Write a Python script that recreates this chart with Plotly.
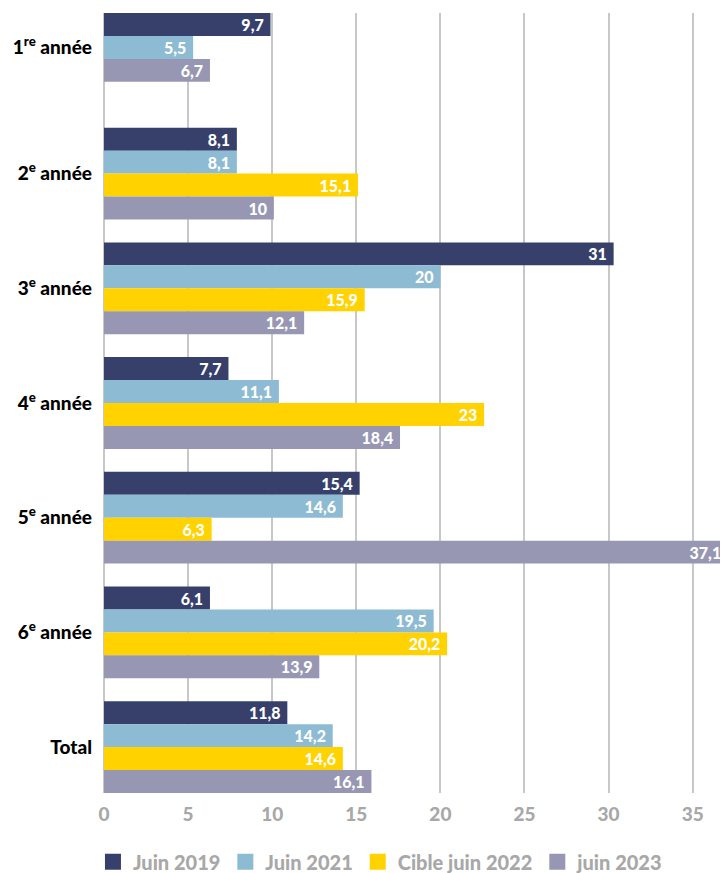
import plotly.graph_objects as go

# Categories (top to bottom)
categories = ["1<sup>re</sup> année", "2<sup>e</sup> année", "3<sup>e</sup> année",
              "4<sup>e</sup> année", "5<sup>e</sup> année", "6<sup>e</sup> année", "Total"]

series_names = ["Juin 2019", "Juin 2021", "Cible juin 2022", "juin 2023"]
series_colors = ["#36406b", "#8dbbd4", "#ffd200", "#9797b3"]

# Bar lengths as drawn in the picture
juin_2019 = [9.9, 7.9, 30.3, 7.4, 15.2, 6.3, 10.9]
juin_2021 = [5.3, 7.9, 20.0, 10.4, 14.2, 19.6, 13.6]
cible_2022 = [None, 15.1, 15.5, 22.6, 6.4, 20.4, 14.2]
juin_2023 = [6.3, 10.1, 11.9, 17.6, 37.1, 12.8, 15.9]

# Printed value labels
labels_2019 = ["9,7", "8,1", "31", "7,7", "15,4", "6,1", "11,8"]
labels_2021 = ["5,5", "8,1", "20", "11,1", "14,6", "19,5", "14,2"]
labels_2022 = [None, "15,1", "15,9", "23", "6,3", "20,2", "14,6"]
labels_2023 = ["6,7", "10", "12,1", "18,4", "37,1", "13,9", "16,1"]

x_ticks = [0, 5, 10, 15, 20, 25, 30, 35]

series_values = [juin_2019, juin_2021, cible_2022, juin_2023]
series_labels = [labels_2019, labels_2021, labels_2022, labels_2023]

n_slots = len(series_values)
slot_w = 0.2
FONT = "Lato, sans-serif"

# compute slot positions: present bars in each category are packed from the top
positions = [[None] * len(categories) for _ in series_values]
tick_pos = []
for i in range(len(categories)):
    present = [s for s in range(n_slots) if series_values[s][i] is not None]
    ys = []
    for k, s in enumerate(present):
        y = i + (k - (n_slots - 1) / 2) * slot_w
        positions[s][i] = y
        ys.append(y)
    tick_pos.append(sum(ys) / len(ys))

fig = go.Figure()
for s in range(n_slots):
    xs, ys, ts = [], [], []
    for i in range(len(categories)):
        if series_values[s][i] is None:
            continue
        xs.append(series_values[s][i])
        ys.append(positions[s][i])
        ts.append(series_labels[s][i] + "\u00a0")
    fig.add_trace(go.Bar(
        x=xs, y=ys, orientation="h", width=slot_w,
        marker=dict(color=series_colors[s], line=dict(width=0)),
        text=ts, textposition="inside", insidetextanchor="end", constraintext="none",
        textfont=dict(family=FONT, size=16, color="white", weight=900),
        showlegend=False, hoverinfo="skip", name=series_names[s],
    ))

# legend entries with square swatches
for s in range(n_slots):
    fig.add_trace(go.Scatter(
        x=[None], y=[None], mode="markers", name=series_names[s],
        marker=dict(symbol="square", size=18, color=series_colors[s]),
        showlegend=True,
    ))

fig.update_layout(
    width=720, height=865,
    margin=dict(l=96, r=0, t=5, b=80),
    paper_bgcolor="white", plot_bgcolor="white",
    barmode="overlay",
    font=dict(family=FONT),
    showlegend=True,
    legend=dict(orientation="h", xref="container", yref="container",
                x=0.118, xanchor="left", y=0.013, yanchor="middle",
                font=dict(family=FONT, size=20, color="#a8a8a8", weight=900),
                itemwidth=30, traceorder="normal"),
    xaxis=dict(range=[0, 37.1], tickvals=x_ticks, showgrid=True, gridcolor="#c8c8c8",
               gridwidth=2, zeroline=True, zerolinecolor="#c8c8c8", zerolinewidth=2,
               showline=False, ticks="", fixedrange=True, ticklabelstandoff=8,
               automargin=False,
               tickfont=dict(family=FONT, size=19, color="#a8a8a8", weight=900)),
    yaxis=dict(range=[len(categories) - 1 + 0.4, -0.4], tickvals=tick_pos, ticktext=categories,
               showgrid=False, zeroline=False, showline=False, ticks="",
               ticklabelstandoff=11, fixedrange=True, automargin=False,
               tickfont=dict(family=FONT, size=19, color="black", weight=900)),
)

fig.write_html("out.html")
